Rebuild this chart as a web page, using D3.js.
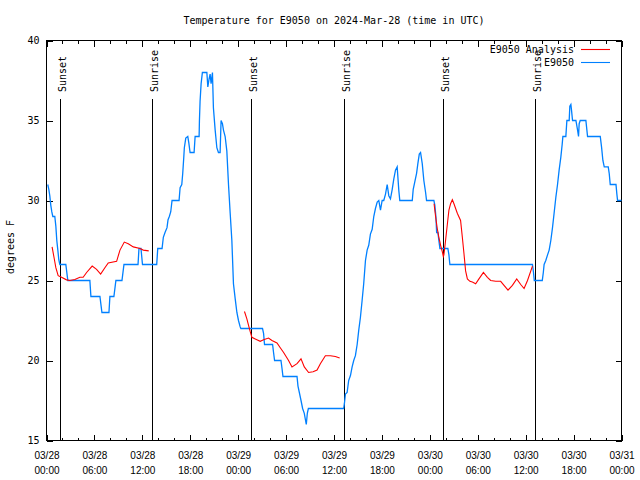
<!DOCTYPE html>
<html><head><meta charset="utf-8">
<script src="https://cdn.jsdelivr.net/npm/d3@7"></script>
<style>
html,body{margin:0;padding:0;background:#fff;}
svg{display:block;font-family:"DejaVu Sans Mono",monospace;font-size:10px;}
</style></head>
<body>
<svg id="chart" width="640" height="480"></svg>
<script>
// ---- data (hours since 2024-03-28 00:00 UTC, temperature °F) ----
const titleText = "Temperature for E9050 on 2024-Mar-28 (time in UTC)";
const seriesNames = ["E9050 Analysis", "E9050"];
const yTicks = [15, 20, 25, 30, 35, 40];
const xMajorTicks = [0, 6, 12, 18, 24, 30, 36, 42, 48, 54, 60, 66, 72];
const sunsets = [1.63, 25.66, 49.69];
const sunrises = [13.26, 37.23, 61.22];

const observed = [
[0.16,31.0],[0.29,30.7],[0.41,30.3],[0.54,29.7],[0.66,29.3],[0.79,29.0],[1.04,29.0],[1.17,28.4],
[1.29,27.5],[1.42,26.9],[1.54,26.3],[1.67,26.0],[2.42,26.0],[2.67,25.0],[5.43,25.0],[5.56,24.0],
[6.69,24.0],[6.94,23.0],[7.82,23.0],[7.94,24.0],[8.44,24.0],[8.69,25.0],[9.45,25.0],[9.70,26.0],
[11.46,26.0],[11.58,27.0],[11.83,27.0],[12.02,26.0],[13.80,26.0],[13.93,27.0],[14.47,27.0],
[14.63,27.7],[14.84,28.0],[15.09,28.3],[15.22,28.8],[15.38,29.0],[15.56,29.3],[15.72,30.0],
[16.60,30.0],[16.73,30.8],[16.94,31.0],[17.06,31.7],[17.19,32.7],[17.26,33.3],[17.44,33.9],
[17.69,34.0],[17.82,33.6],[17.98,33.0],[18.48,33.0],[18.61,34.0],[19.11,34.0],[19.15,35.0],
[19.23,36.2],[19.36,37.3],[19.52,38.0],[20.08,38.0],[20.20,37.1],[20.36,37.6],[20.49,37.9],
[20.61,37.3],[20.78,38.0],[20.90,35.8],[21.12,34.4],[21.33,33.3],[21.53,33.0],[21.74,33.0],
[21.86,35.0],[22.03,34.8],[22.16,34.4],[22.37,34.0],[22.58,33.1],[22.79,31.0],[23.00,29.2],
[23.21,27.5],[23.41,24.8],[23.63,23.85],[23.84,23.0],[24.04,22.5],[24.25,22.1],[24.34,22.0],
[27.05,22.0],[27.18,21.7],[27.30,21.0],[28.31,21.0],[28.43,20.5],[28.56,20.0],[29.36,20.0],
[29.49,19.5],[29.61,19.0],[31.37,19.0],[31.49,18.4],[31.66,18.0],[31.87,17.5],[32.07,17.0],
[32.28,16.7],[32.53,16.0],[32.66,16.7],[32.79,17.0],[37.21,17.0],[37.30,17.3],[37.43,17.9],
[37.64,18.0],[37.84,18.75],[38.06,19.06],[38.27,19.6],[38.47,20.0],[38.68,20.3],[38.90,21.0],
[39.10,21.9],[39.31,22.7],[39.52,23.75],[39.72,24.8],[39.94,26.25],[40.15,26.9],[40.35,27.2],
[40.56,27.9],[40.78,28.2],[40.98,29.0],[41.19,29.5],[41.41,29.9],[41.61,30.0],[41.82,29.4],
[42.03,30.0],[42.23,30.0],[42.45,30.4],[42.66,31.0],[42.86,30.3],[43.07,30.1],[43.29,30.7],
[43.49,31.35],[43.70,31.9],[43.91,32.1],[44.12,30.6],[44.24,30.0],[45.80,30.0],[45.92,30.7],
[46.09,31.1],[46.34,31.7],[46.50,32.3],[46.68,32.9],[46.84,33.0],[47.05,32.3],[47.25,31.25],
[47.47,30.5],[47.59,30.0],[48.51,30.0],[48.63,29.7],[48.76,29.0],[48.85,28.0],[49.01,28.0],
[49.13,27.5],[49.26,27.0],[50.26,27.0],[50.39,26.6],[50.51,26.0],[60.85,26.0],[60.98,25.5],
[61.08,25.0],[62.08,25.0],[62.21,25.5],[62.31,26.0],[62.52,26.25],[62.74,26.6],[62.94,26.9],
[63.15,27.5],[63.36,28.3],[63.56,29.2],[63.78,30.2],[63.99,31.0],[64.19,31.9],[64.40,32.7],
[64.57,33.5],[64.66,34.0],[65.03,34.0],[65.16,35.0],[65.45,35.0],[65.53,35.9],[65.66,36.0],
[65.75,35.6],[65.87,35.0],[66.29,35.0],[66.50,34.4],[66.62,34.0],[66.70,34.8],[66.83,35.0],
[67.54,35.0],[67.75,34.0],[69.34,34.0],[69.51,33.3],[69.67,32.5],[69.84,32.1],[70.34,32.1],
[70.46,31.7],[70.59,31.0],[71.31,31.0],[71.42,30.4],[71.51,30.0],[72.0,30.0]
];

const analysis1 = [
[0.70,27.1],[0.92,26.5],[1.17,25.8],[1.46,25.3],[1.88,25.2],[2.51,25.04],[2.92,25.0],[3.55,25.06],
[4.18,25.2],[4.59,25.2],[5.02,25.5],[5.72,25.9],[6.27,25.7],[6.78,25.4],[7.31,25.8],[7.73,26.1],
[8.78,26.2],[9.20,26.9],[9.74,27.4],[10.24,27.3],[10.87,27.1],[11.71,27.0],[12.12,26.9],[12.80,26.85]
];
const analysis2 = [
[24.79,23.06],[25.09,22.6],[25.30,22.2],[25.51,21.8],[25.72,21.45],[26.14,21.35],[26.76,21.2],
[27.18,21.3],[27.80,21.4],[28.23,21.25],[28.86,21.1],[29.27,20.8],[29.69,20.5],[30.31,20.0],
[30.74,19.6],[31.37,19.8],[31.87,20.1],[32.28,19.6],[32.82,19.25],[33.38,19.3],[33.88,19.4],
[34.29,19.8],[34.92,20.3],[35.55,20.3],[36.17,20.25],[36.71,20.15]
];
const analysis3 = [
[48.53,29.8],[48.72,29.0],[48.93,28.25],[49.13,27.7],[49.35,27.2],[49.56,26.8],[49.69,26.5],
[49.76,26.6],[49.97,27.5],[50.19,28.5],[50.39,29.4],[50.60,29.8],[50.82,30.05],[51.02,29.8],
[51.23,29.5],[51.44,29.2],[51.85,28.75],[52.07,27.7],[52.27,26.7],[52.48,25.6],[52.70,25.1],
[53.02,24.95],[53.32,24.9],[53.74,24.8],[54.15,25.1],[54.71,25.5],[55.21,25.2],[55.62,25.0],
[56.25,24.95],[56.87,24.95],[57.29,24.7],[57.79,24.4],[58.34,24.7],[58.88,25.1],[59.38,24.75],
[59.80,24.5],[60.23,25.0],[60.85,25.9]
];

// ---- drawing ----
const svg = d3.select("#chart");
const L = 46.5, R = 621.5, T = 40.5, B = 440.5;
const x = d3.scaleLinear().domain([0, 72]).range([L, R]);
const y = d3.scaleLinear().domain([15, 40]).range([B, T]);
const base = Date.UTC(2024, 2, 28);
const fmtDate = d3.utcFormat("%m/%d"), fmtTime = d3.utcFormat("%H:%M");
const toDate = h => new Date(base + h * 3600000);
const minorTicks = d3.range(0, 73, 2).filter(h => h % 6 !== 0);
const blue = "#0080ff", red = "#ff0000";

// title
svg.append("text").attr("x", (L + R) / 2).attr("y", 23.5)
  .attr("text-anchor", "middle").text(titleText);

// y label
svg.append("text").attr("transform", "translate(14,247) rotate(-90)")
  .attr("text-anchor", "middle").text("degrees F");

function styleAxis(g) {
  g.select(".domain").remove();
  g.selectAll("line").attr("stroke", "#000").attr("shape-rendering", "crispEdges");
}

// bottom axis with two-line labels
const xb = svg.append("g").attr("transform", `translate(0,${B})`)
  .call(d3.axisBottom(x).tickValues(xMajorTicks).tickSize(-6).tickFormat(() => ""));
styleAxis(xb);
xb.selectAll(".tick").each(function(h) {
  const t = d3.select(this).append("text").attr("fill", "#000")
    .attr("text-anchor", "middle").attr("font-size", 10);
  t.append("tspan").attr("x", 0).attr("y", 18).text(fmtDate(toDate(h)));
  t.append("tspan").attr("x", 0).attr("y", 33).text(fmtTime(toDate(h)));
});
styleAxis(svg.append("g").attr("transform", `translate(0,${B})`)
  .call(d3.axisBottom(x).tickValues(minorTicks).tickSize(-3).tickFormat(() => "")));
// top mirror
styleAxis(svg.append("g").attr("transform", `translate(0,${T})`)
  .call(d3.axisTop(x).tickValues(xMajorTicks).tickSize(-6).tickFormat(() => "")));
styleAxis(svg.append("g").attr("transform", `translate(0,${T})`)
  .call(d3.axisTop(x).tickValues(minorTicks).tickSize(-3).tickFormat(() => "")));
// left axis
const yl = svg.append("g").attr("transform", `translate(${L},0)`)
  .call(d3.axisLeft(y).tickValues(yTicks).tickSize(-6).tickPadding(7).tickFormat(d3.format("d")));
styleAxis(yl);
yl.selectAll("text").attr("font-size", 10).attr("fill", "#000").attr("font-family", "DejaVu Sans Mono");
// right mirror
styleAxis(svg.append("g").attr("transform", `translate(${R},0)`)
  .call(d3.axisRight(y).tickValues(yTicks).tickSize(-6).tickFormat(() => "")));

// frame
svg.append("rect").attr("x", L).attr("y", T).attr("width", R - L).attr("height", B - T)
  .attr("fill", "none").attr("stroke", "#000").attr("shape-rendering", "crispEdges");

// sunrise / sunset markers
const events = sunsets.map(h => ({h, label: "Sunset"}))
  .concat(sunrises.map(h => ({h, label: "Sunrise"})));
events.forEach(e => {
  const px = Math.round(x(e.h)) + 0.5;
  svg.append("line").attr("x1", px).attr("x2", px).attr("y1", 99).attr("y2", B)
    .attr("stroke", "#000").attr("shape-rendering", "crispEdges");
  svg.append("text").attr("transform", `translate(${px + 5},92) rotate(-90)`)
    .attr("text-anchor", "start").text(e.label);
});

// series
const line = d3.line().x(d => x(d[0])).y(d => y(d[1]));
svg.append("path").datum(observed).attr("d", line)
  .attr("fill", "none").attr("stroke", blue).attr("stroke-width", 1.3);
[analysis1, analysis2, analysis3].forEach(seg => {
  svg.append("path").datum(seg).attr("d", line)
    .attr("fill", "none").attr("stroke", red).attr("stroke-width", 1.1);
});

// legend
const legend = [{name: seriesNames[0], color: red}, {name: seriesNames[1], color: blue}];
legend.forEach((d, i) => {
  const yy = 49.5 + i * 13;
  svg.append("text").attr("x", 574).attr("y", yy + 3.5).attr("text-anchor", "end").text(d.name);
  svg.append("line").attr("x1", 581).attr("x2", 610).attr("y1", yy).attr("y2", yy)
    .attr("stroke", d.color).attr("stroke-width", 1.1);
});
</script>
</body></html>
